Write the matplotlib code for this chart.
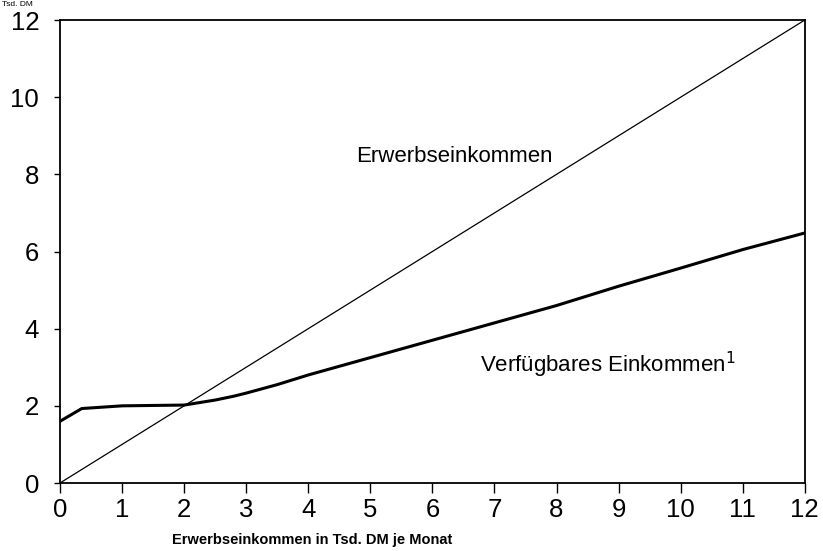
import numpy as np
import matplotlib.pyplot as plt

plt.rcParams['font.family'] = ['Liberation Sans', 'DejaVu Sans']

# Erwerbseinkommen (Tsd. DM je Monat), 45-Grad-Linie
erwerb = [0, 12]
erwerb_y = [0, 12]

# verfuegbares Einkommen
x_verf = [0, 0.35, 1, 2, 2.5, 2.8, 3, 3.5, 4, 5, 6, 7, 8, 9, 10, 11, 12]
y_verf = [1.6, 1.93, 2.0, 2.02, 2.15, 2.25, 2.33, 2.55, 2.8, 3.25, 3.7, 4.15, 4.6, 5.1, 5.57, 6.05, 6.48]

xticks = list(range(0, 13))
yticks = [0, 2, 4, 6, 8, 10, 12]

fig = plt.figure(figsize=(8.23, 5.51), dpi=100)
ax = fig.add_axes([0.0729, 0.1234, 0.905, 0.8403])

ax.plot(erwerb, erwerb_y, color='black', lw=0.9)
ax.plot(x_verf, y_verf, color='black', lw=2.2)

ax.set_xlim(0, 12)
ax.set_ylim(0, 12)
ax.set_xticks(xticks)
ax.set_yticks(yticks)
ax.tick_params(axis='both', labelsize=18.5, width=1, direction='out')
ax.tick_params(axis='x', length=7, pad=4)
ax.tick_params(axis='y', length=4, pad=11)
for s in ax.spines.values():
    s.set_linewidth(1.3)

ax.text(6.35, 8.45, 'Erwerbseinkommen', fontsize=16, ha='center', va='center')
ax.text(6.76, 3.06, 'Verfügbares Einkommen$^1$', fontsize=16, ha='left', va='center')

fig.text(0.379, 0.02, 'Erwerbseinkommen in Tsd. DM je Monat', fontsize=10.5,
         fontweight='bold', ha='center', va='center')
# Einheit oben links
fig.text(0.002, 0.999, 'Tsd. DM', fontsize=6, ha='left', va='top')

fig.savefig('out.png', dpi=100)
